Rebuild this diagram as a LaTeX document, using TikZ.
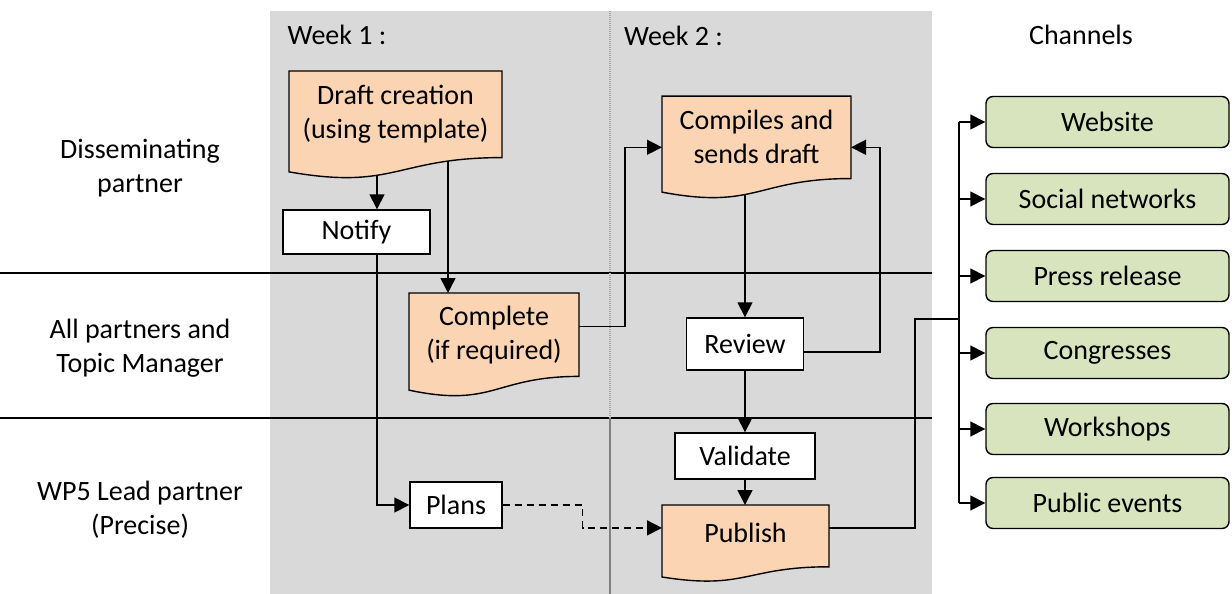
\documentclass[tikz,border=0pt]{standalone}
\usepackage{fontspec}
\setmainfont{Carlito}
\usetikzlibrary{arrows.meta,calc}
\pgfdeclarelayer{background}
\pgfdeclarelayer{links}
\pgfdeclarelayer{docs}
\pgfsetlayers{background,links,docs,main}
\definecolor{lanegray}{HTML}{D9D9D9}
\definecolor{docfill}{HTML}{FBD4B4}
\definecolor{chanfill}{HTML}{D7E4BD}
\definecolor{divgray}{HTML}{808080}
\definecolor{dotgray}{HTML}{A6A6A6}
% flowchart "document" outline around a node: flat top, wavy bottom
\newcommand{\docshape}[1]{%
  \begin{pgfonlayer}{docs}
    \draw[docline] (#1.north west) -- (#1.north east) -- (#1.south east)
      .. controls (#1.south) and ($(#1.south)!-0.381!(#1.north)$)
      .. ($(#1.south west)!-0.1646!(#1.north west)$) -- cycle;
  \end{pgfonlayer}}
\begin{document}
\begin{tikzpicture}[x=1pt,y=-1pt,
  every node/.style={font=\fontsize{28}{34}\selectfont},
  lbl/.style={align=center, inner sep=0pt},
  stepbox/.style={draw, fill=white, line width=1.4pt, inner sep=0pt},
  docnode/.style={align=center, inner sep=0pt, outer sep=0pt},
  docline/.style={draw=black, fill=docfill, line width=1.4pt, line join=miter},
  chan/.style={draw, fill=chanfill, rounded corners=7pt, line width=1.4pt,
    minimum width=243pt, minimum height=51pt, inner sep=0pt},
  link/.style={line width=1.5pt},
  arr/.style={link, -{Triangle[length=15pt,width=15pt]}},
  lane/.style={line width=1.5pt}]
\useasboundingbox (0,0) rectangle (1232,594);

% swimlane background, lane separators and week divider
\begin{pgfonlayer}{background}
  \fill[lanegray] (270,11) rectangle (932,594);
  \draw[lane] (0,273) -- (932,273);
  \draw[lane] (0,418) -- (932,418);
  \draw[dotgray, line width=1.6pt, dash pattern=on 1pt off 1pt] (610,11) -- (610,418);
  \draw[divgray, line width=2pt] (610,418) -- (610,594);
\end{pgfonlayer}

% headings
\node[lbl] (wk1) at (337,35) {Week 1 :};
\node[lbl] (wk2) at (673.5,36) {Week 2 :};
\node[lbl] (chh) at (1081,35) {Channels};

% lane titles
\node[lbl] (lane1) at (140,168) {Disseminating\\partner};
\node[lbl] (lane2) at (140,348.5) {All partners and\\Topic Manager};
\node[lbl] (lane3) at (140,510) {WP5 Lead partner\\(Precise)};

% document steps
\node[docnode, minimum width=213pt, minimum height=86.6pt] (draft) at (395.5,114.3)
  {Draft creation\\(using template)};
\docshape{draft}
\node[docnode, minimum width=189pt, minimum height=82.5pt] (compiles) at (756.5,137.3)
  {Compiles and\\sends draft};
\docshape{compiles}
\node[docnode, minimum width=170pt, minimum height=83.4pt] (complete) at (494,334.7)
  {Complete\\(if required)};
\docshape{complete}
\node[docnode, minimum width=167pt, minimum height=61.8pt] (publish) at (745.5,535.9)
  {\raisebox{6pt}{Publish}};
\docshape{publish}

% plain steps
\node[stepbox, minimum width=147pt, minimum height=44pt] (notify) at (356.5,232) {Notify};
\node[stepbox, minimum width=92pt, minimum height=46pt] (plans) at (456,505) {Plans};
\node[stepbox, minimum width=117pt, minimum height=52pt] (review) at (745,344) {Review};
\node[stepbox, minimum width=140pt, minimum height=46pt] (validate) at (745,456) {Validate};

% channels
\node[chan] (website) at (1107.5,122) {Website};
\node[chan] (social) at (1107.5,199) {Social networks};
\node[chan] (press) at (1107.5,276) {Press release};
\node[chan] (congress) at (1107.5,353) {Congresses};
\node[chan] (workshops) at (1107.5,429) {Workshops};
\node[chan] (events) at (1107.5,503) {Public events};

% connector anchor points
\coordinate (nx) at ([xshift=20.5pt]notify.north);
\coordinate (cx) at ([xshift=-46pt]complete.north);
\coordinate (bus) at (959,319);

\begin{pgfonlayer}{links}
  \draw[arr] (nx |- draft.center) -- (nx);
  \draw[arr] (cx |- draft.center) -- (cx);
  \draw[arr] (nx |- notify.south) |- (plans.west);
  \draw[arr] ([yshift=8pt]complete.east) -- ++(46,0) |- ([yshift=-10pt]compiles.west);
  \draw[arr] (compiles.center -| review.north) -- (review.north);
  \draw[arr] ([yshift=-8pt]review.east) -- ++(76,0) |- ([yshift=-10pt]compiles.east);
  \draw[arr] (review.south) -- (validate.north);
  \draw[arr] (validate.south) -- (validate.south |- publish.north);
  \draw[arr, dash pattern=on 7pt off 5pt] (plans.east) -- ++(80,0) |- ([yshift=8pt]publish.west);
  \draw[link] ([yshift=8pt]publish.east) -- ++(86,0) |- (bus);
  \draw[link] (website.west -| bus) -- (events.west -| bus);
  \foreach \c in {website,social,press,congress,workshops,events}
    \draw[arr] (\c.west -| bus) -- (\c.west);
\end{pgfonlayer}
\end{tikzpicture}
\end{document}
